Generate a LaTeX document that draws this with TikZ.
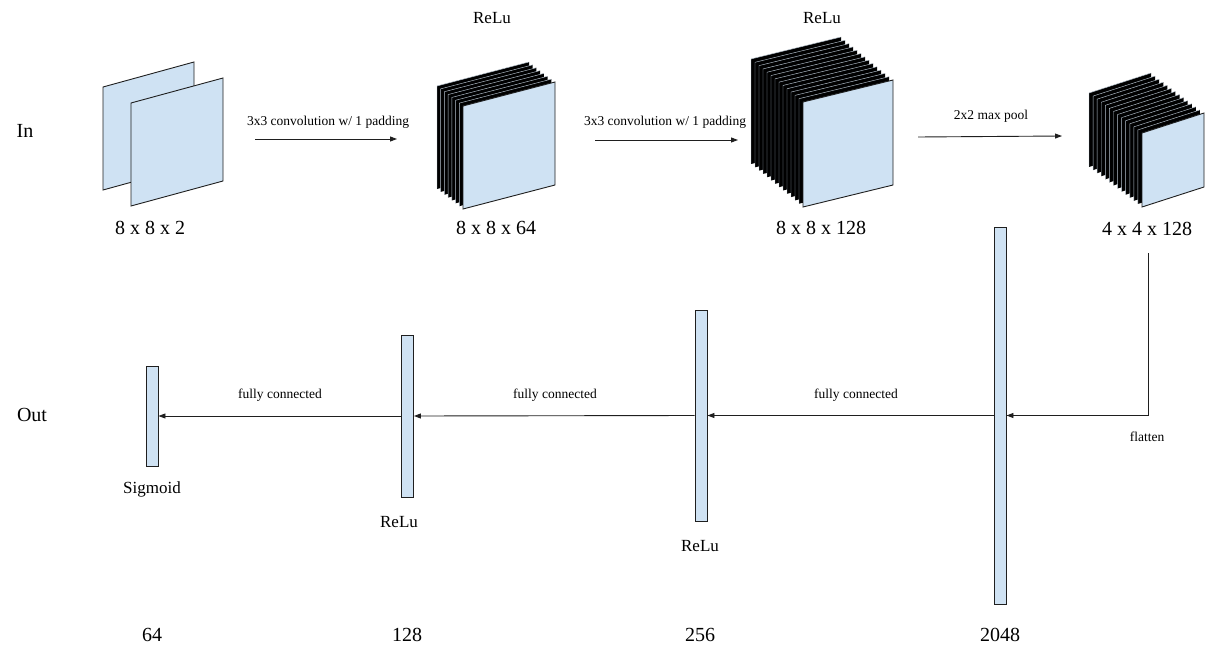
\documentclass[tikz,border=0pt]{standalone}
\usepackage{fontspec}
\setmainfont{Liberation Serif}
\usetikzlibrary{arrows.meta}
\definecolor{fmap}{HTML}{CFE2F3}
\definecolor{edge}{HTML}{1F1F1F}

\tikzset{
  plane/.style={fill=fmap, draw=edge, line width=0.9pt, line join=miter},
  sheen/.style={draw=fmap!70!gray, line width=0.45pt},
  arr/.style={-{Triangle[length=7pt,width=5pt]}, line width=0.9pt, draw=edge},
  bar/.style={plane, minimum width=12pt, inner sep=0pt},
  big/.style={font=\fontsize{20}{24}\selectfont, inner sep=0pt},
  mid/.style={font=\fontsize{17}{20}\selectfont, inner sep=0pt},
  small/.style={font=\fontsize{13.5}{16}\selectfont, inner sep=0pt},
}

% stack of feature maps: #1,#2 front top-left corner, #3 width, #4 height,
% #5 rise of the top edge, #6,#7 depth offset of the last plane, #8 planes behind
\newcommand\fmstack[8]{%
  \foreach \i in {#8,...,1}{%
    \pgfmathsetmacro\ox{#1-#6*\i/#8}%
    \pgfmathsetmacro\oy{#2-#7*\i/#8}%
    \fill[black] (\ox,\oy) -- ++(#3,-#5) -- ++(0,#4) -- ++(-#3,#5) -- cycle;
    \draw[sheen] (\ox,\oy+#4) -- (\ox,\oy) -- ++(#3,-#5);
  }%
  \draw[plane] (#1,#2) -- ++(#3,-#5) -- ++(0,#4) -- ++(-#3,#5) -- cycle;
}

\begin{document}
\begin{tikzpicture}[x=1pt, y=-1pt]
\useasboundingbox (0,0) rectangle (1206,647);

% row labels
\node[big] (in)  at (25,131) {In};
\node[big] (out) at (32,415) {Out};

% input: two planes
\draw[plane] (103,87) -- ++(91,-25) -- ++(0,103) -- ++(-91,25) -- cycle;
\draw[plane] (131,103) -- ++(92,-25) -- ++(0,103) -- ++(-92,25) -- cycle;
\node[big] (s1) at (150,228) {8 x 8 x 2};

% convolution outputs and pooled maps
\fmstack{463}{106}{92}{103}{24}{26}{20}{7}
\node[big] (s2) at (496,228) {8 x 8 x 64};
\node[mid] (r2) at (492,18) {ReLu};

\fmstack{803}{102}{90}{105}{22}{52}{43}{13}
\node[big] (s3) at (821,228) {8 x 8 x 128};
\node[mid] (r3) at (822,18) {ReLu};

\fmstack{1142}{133}{62}{74}{20}{53}{40}{13}
\node[big] (s4) at (1147,229) {4 x 4 x 128};

% arrows between the maps
\coordinate (a1s) at (255,139);
\coordinate (a1e) at (397,139);
\draw[arr] (a1s) -- (a1e);
\node[small] (l1) at (328,122) {3x3 convolution w/ 1 padding};

\coordinate (a2s) at (595,140);
\coordinate (a2e) at (738,140);
\draw[arr] (a2s) -- (a2e);
\node[small] (l2) at (665,122) {3x3 convolution w/ 1 padding};

\coordinate (a3s) at (918,137);
\coordinate (a3e) at (1062,136);
\draw[arr] (a3s) -- (a3e);
\node[small] (l3) at (991,116) {2x2 max pool};

% dense layers
\node[bar, minimum height=100pt] (b1) at (152,416) {};
\node[bar, minimum height=162pt] (b2) at (407.5,416) {};
\node[bar, minimum height=211pt] (b3) at (701,415.5) {};
\node[bar, minimum height=377pt] (b4) at (1000,415.5) {};

\coordinate (flat) at (1148,253);
\draw[line width=0.9pt, draw=edge, -{Triangle[length=7pt,width=5pt]}] (flat) |- (b4.east);
\node[small] (lf) at (1147,437) {flatten};

\draw[arr] (b4.west) -- (b3.east);
\node[small] (f3) at (856,395) {fully connected};
\draw[arr] (b3.west) -- (b2.east);
\node[small] (f2) at (555,395) {fully connected};
\draw[arr] (b2.west) -- (b1.east);
\node[small] (f1) at (280,395) {fully connected};

\node[mid] (act1) at (152,489) {Sigmoid};
\node[mid] (act2) at (399,522) {ReLu};
\node[mid] (act3) at (700,546) {ReLu};

\node[big] (n1) at (152,635) {64};
\node[big] (n2) at (407,635) {128};
\node[big] (n3) at (700,635) {256};
\node[big] (n4) at (1000,635) {2048};
\end{tikzpicture}
\end{document}
